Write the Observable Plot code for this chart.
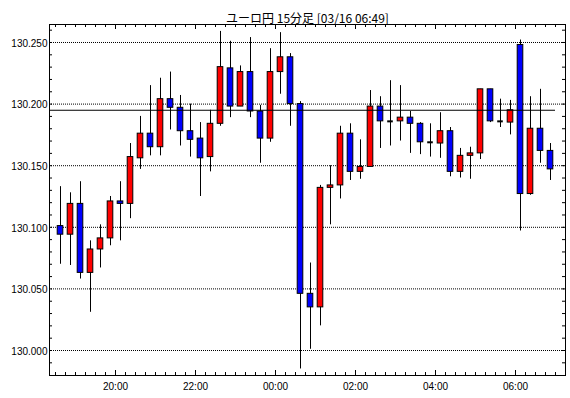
<!DOCTYPE html>
<html>
<head>
<meta charset="utf-8">
<script src="https://cdn.jsdelivr.net/npm/d3@7"></script>
<script src="https://cdn.jsdelivr.net/npm/@observablehq/plot@0.6"></script>
<style>
  html, body { margin: 0; padding: 0; background: #fff; }
</style>
</head>
<body>
<div id="chart"></div>
<script>
// ---- data ----
const title = "ユーロ円 15分足 [03/16 06:49]";
const times = ["18:30","18:45","19:00","19:15","19:30","19:45","20:00","20:15","20:30","20:45",
  "21:00","21:15","21:30","21:45","22:00","22:15","22:30","22:45","23:00","23:15",
  "23:30","23:45","00:00","00:15","00:30","00:45","01:00","01:15","01:30","01:45",
  "02:00","02:15","02:30","02:45","03:00","03:15","03:30","03:45","04:00","04:15",
  "04:30","04:45","05:00","05:15","05:30","05:45","06:00","06:15","06:30","06:45"];
const open = [130.101,130.094,130.119,130.063,130.082,130.091,130.121,130.119,130.156,130.176,
  130.165,130.204,130.197,130.178,130.172,130.157,130.184,130.229,130.198,130.226,
  130.194,130.172,130.226,130.238,130.200,130.046,130.035,130.132,130.134,130.176,
  130.145,130.149,130.198,130.186,130.186,130.189,130.184,130.169,130.168,130.178,
  130.145,130.158,130.160,130.212,130.186,130.185,130.248,130.127,130.180,130.162];
const high = [130.133,130.128,130.137,130.089,130.102,130.125,130.137,130.168,130.190,130.215,
  130.221,130.226,130.207,130.200,130.185,130.195,130.259,130.251,130.231,130.254,
  130.199,130.245,130.258,130.241,130.202,130.071,130.134,130.150,130.182,130.184,
  130.171,130.211,130.206,130.219,130.215,130.194,130.185,130.184,130.193,130.181,
  130.164,130.165,130.212,130.212,130.204,130.203,130.252,130.206,130.212,130.168];
const low = [130.070,130.069,130.058,130.031,130.067,130.085,130.089,130.107,130.147,130.158,
  130.158,130.179,130.166,130.157,130.125,130.145,130.182,130.189,130.198,130.189,
  130.152,130.169,130.208,130.182,129.985,130.001,130.020,130.102,130.123,130.138,
  130.139,130.149,130.164,130.166,130.170,130.160,130.159,130.157,130.156,130.141,
  130.140,130.139,130.155,130.185,130.181,130.175,130.097,130.126,130.152,130.138];
const close = [130.094,130.119,130.063,130.082,130.091,130.121,130.119,130.157,130.176,130.165,
  130.204,130.197,130.178,130.171,130.156,130.184,130.230,130.198,130.226,130.194,
  130.172,130.226,130.238,130.200,130.046,130.035,130.132,130.134,130.176,130.145,
  130.149,130.198,130.186,130.186,130.189,130.184,130.169,130.169,130.178,130.145,
  130.158,130.160,130.212,130.186,130.186,130.195,130.127,130.180,130.162,130.147];
const refPrice = 130.195;
const refEndTime = "06:30";
const yTickValues = [130.000, 130.050, 130.100, 130.150, 130.200, 130.250];
const xTickLabels = ["20:00","22:00","00:00","02:00","04:00","06:00"];

// ---- build ----
const candles = times.map((t, i) => ({
  t, i, open: open[i], high: high[i], low: low[i], close: close[i]
}));
const bodies = candles.filter(d => d.open !== d.close);
const dojis = candles.filter(d => d.open === d.close);

const W = 570, H = 398;
const mL = 49, mR = 5, mT = 24, mB = 23;
const frameW = W - mL - mR, frameH = H - mT - mB;
const xDomain = [-1.1, 50.5];
const yDomain = [129.979708, 130.264610];

const xTickPos = xTickLabels.map(l => times.indexOf(l) - 0.5);
const boundaries = d3.range(-0.5, times.length + 0.5, 1);
const minorY = d3.range(12999, 13027).map(v => v / 100);
const half = 0.28;
const font = "'Liberation Sans', Arial, sans-serif";

const chart = Plot.plot({
  width: W, height: H,
  marginLeft: mL, marginRight: mR, marginTop: mT, marginBottom: mB,
  style: {background: "#fff", fontFamily: font, color: "#000"},
  x: {type: "linear", domain: xDomain, label: null},
  y: {type: "linear", domain: yDomain, label: null},
  marks: [
    Plot.ruleY(yTickValues, {stroke: "#000", strokeWidth: 1, strokeDasharray: "1,1"}),
    Plot.ruleX(candles, {x: "i", y1: "low", y2: "high", stroke: "#000", strokeWidth: 1}),
    Plot.rect(bodies, {
      x1: d => d.i - half, x2: d => d.i + half,
      y1: "open", y2: "close",
      fill: d => d.close > d.open ? "#ff0000" : "#0000ff",
      stroke: "#000", strokeWidth: 1
    }),
    Plot.ruleY(dojis, {y: "close", x1: d => d.i - half, x2: d => d.i + half, stroke: "#000", strokeWidth: 2}),
    Plot.ruleY([refPrice], {x1: xDomain[0], x2: times.indexOf(refEndTime) + 1.5, stroke: "#000", strokeWidth: 1}),
    // inward ticks
    Plot.tickY(minorY, {y: d => d, insetRight: frameW - 3, stroke: "#000"}),
    Plot.tickY(minorY, {y: d => d, insetLeft: frameW - 3, stroke: "#000"}),
    Plot.tickX(boundaries, {x: d => d, insetTop: frameH - 3, stroke: "#000"}),
    Plot.tickX(boundaries, {x: d => d, insetBottom: frameH - 3, stroke: "#000"}),
    Plot.tickX(xTickPos, {x: d => d, insetTop: frameH - 5, stroke: "#000"}),
    Plot.tickX(xTickPos, {x: d => d, insetBottom: frameH - 5, stroke: "#000"}),
    Plot.frame({stroke: "#000", strokeWidth: 1}),
    Plot.axisY({
      anchor: "left", ticks: yTickValues, tickFormat: d3.format(".3f"),
      tickSize: 0, tickPadding: 2, fontSize: 10, dy: 1, fill: "#000", label: null
    }),
    Plot.axisX({
      anchor: "bottom", ticks: xTickPos,
      tickFormat: d => xTickLabels[xTickPos.indexOf(d)],
      tickSize: 0, tickPadding: 7, fontSize: 10, fill: "#000", label: null
    }),
    Plot.text([title], {
      frameAnchor: "top", dy: -10, text: d => d,
      fontSize: 12, fill: "#000",
      fontFamily: "'Noto Sans CJK JP', sans-serif"
    })
  ]
});
document.getElementById("chart").appendChild(chart);
</script>
</body>
</html>
